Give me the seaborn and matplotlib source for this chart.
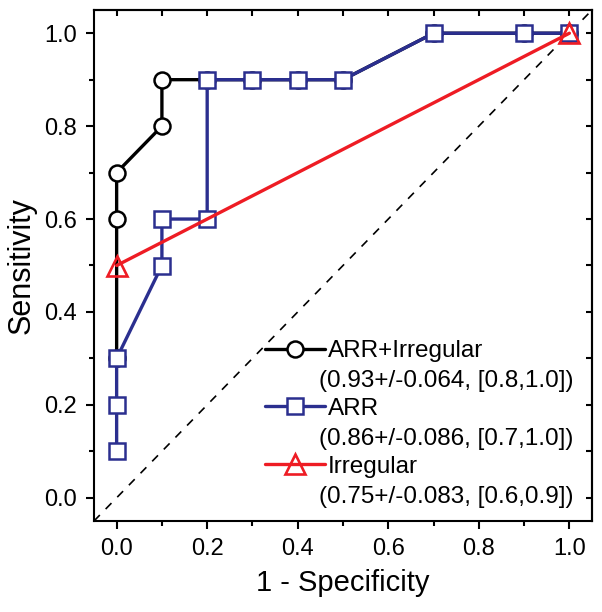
import numpy as np
import pandas as pd
import matplotlib
matplotlib.use("Agg")
import matplotlib.pyplot as plt
from matplotlib.ticker import MultipleLocator, FormatStrFormatter
import seaborn as sns

# ROC curve points (1 - specificity, sensitivity)
combo_fpr = [0.0, 0.0, 0.0, 0.1, 0.1, 0.2, 0.3, 0.4, 0.5, 0.7, 0.9, 1.0]
combo_tpr = [0.3, 0.6, 0.7, 0.8, 0.9, 0.9, 0.9, 0.9, 0.9, 1.0, 1.0, 1.0]

arr_fpr = [0.0, 0.0, 0.0, 0.1, 0.1, 0.2, 0.2, 0.3, 0.4, 0.5, 0.7, 0.9, 1.0]
arr_tpr = [0.1, 0.2, 0.3, 0.5, 0.6, 0.6, 0.9, 0.9, 0.9, 0.9, 1.0, 1.0, 1.0]

irr_fpr = [0.0, 1.0]
irr_tpr = [0.5, 1.0]

names = ["ARR+Irregular", "ARR", "Irregular"]
stats = ["(0.93+/-0.064, [0.8,1.0])",
         "(0.86+/-0.086, [0.7,1.0])",
         "(0.75+/-0.083, [0.6,0.9])"]

sns.set_style("ticks")
plt.rcParams["font.family"] = ["Liberation Sans", "DejaVu Sans"]
plt.rcParams["text.color"] = "black"
plt.rcParams["axes.labelcolor"] = "black"

fig = plt.figure(figsize=(6.02, 6.12), dpi=100)
ax = fig.add_axes([94 / 602, 91 / 612, 498 / 602, 511 / 612])

# chance diagonal
ax.axline((0, 0), (1, 1), color="black", lw=1.2, ls=(0, (5, 5)), zorder=1)

common = dict(sort=False, estimator=None, lw=2.4, markersize=11.5,
              markeredgewidth=1.8, ax=ax)
sns.lineplot(x=combo_fpr, y=combo_tpr, color="black", marker="o",
             markerfacecolor="white", markeredgecolor="black",
             label=names[0], zorder=2, **common)
sns.lineplot(x=arr_fpr, y=arr_tpr, color="#2b2f8f", marker="s",
             markerfacecolor="white", markeredgecolor="#2b2f8f",
             label=names[1], zorder=3, **common)
sns.lineplot(x=irr_fpr, y=irr_tpr, color="#ee1c24", lw=2.4, marker="^",
             markersize=14, markerfacecolor="none", markeredgecolor="#ee1c24",
             markeredgewidth=1.9, sort=False, estimator=None,
             label=names[2], zorder=4, ax=ax)

ax.set_xlim(-0.05, 1.05)
ax.set_ylim(-0.05, 1.05)
ax.xaxis.set_major_locator(MultipleLocator(0.2))
ax.xaxis.set_minor_locator(MultipleLocator(0.1))
ax.yaxis.set_major_locator(MultipleLocator(0.2))
ax.yaxis.set_minor_locator(MultipleLocator(0.1))
ax.xaxis.set_major_formatter(FormatStrFormatter("%.1f"))
ax.yaxis.set_major_formatter(FormatStrFormatter("%.1f"))

for s in ax.spines.values():
    s.set_visible(True)
    s.set_linewidth(1.5)
    s.set_color("black")

ax.tick_params(which="major", direction="out", length=6, width=1.5,
               labelsize=17, pad=6, colors="black")
ax.tick_params(which="minor", direction="out", length=3.5, width=1.5,
               colors="black")

# inward ticks on the top and right edges
top = ax.secondary_xaxis("top")
top.xaxis.set_major_locator(MultipleLocator(0.2))
top.xaxis.set_minor_locator(MultipleLocator(0.1))
top.tick_params(which="both", direction="in", length=4.5, width=1.5,
                labeltop=False, colors="black")
right = ax.secondary_yaxis("right")
right.yaxis.set_major_locator(MultipleLocator(0.2))
right.yaxis.set_minor_locator(MultipleLocator(0.1))
right.tick_params(which="both", direction="in", length=4.5, width=1.5,
                  labelright=False, colors="black")
top.spines["top"].set_linewidth(1.5)
right.spines["right"].set_linewidth(1.5)

ax.set_xlabel("1 - Specificity", fontsize=21, labelpad=7)
ax.set_ylabel("Sensitivity", fontsize=22, labelpad=6)

leg = ax.legend(loc="upper left", bbox_to_anchor=(0.343, 0.354), frameon=False,
                fontsize=17.5, handlelength=2.47, handletextpad=0.12,
                labelspacing=1.47, borderpad=0, borderaxespad=0)

# second line of each legend entry, tucked under the handle end
for txt, sub in zip(leg.get_texts(), stats):
    ax.annotate(sub, xy=(0, 0.5), xycoords=txt, xytext=(-9, -30),
                textcoords="offset pixels", ha="left", va="center",
                fontsize=17.5, zorder=10)

fig.savefig("out.png", dpi=100)
